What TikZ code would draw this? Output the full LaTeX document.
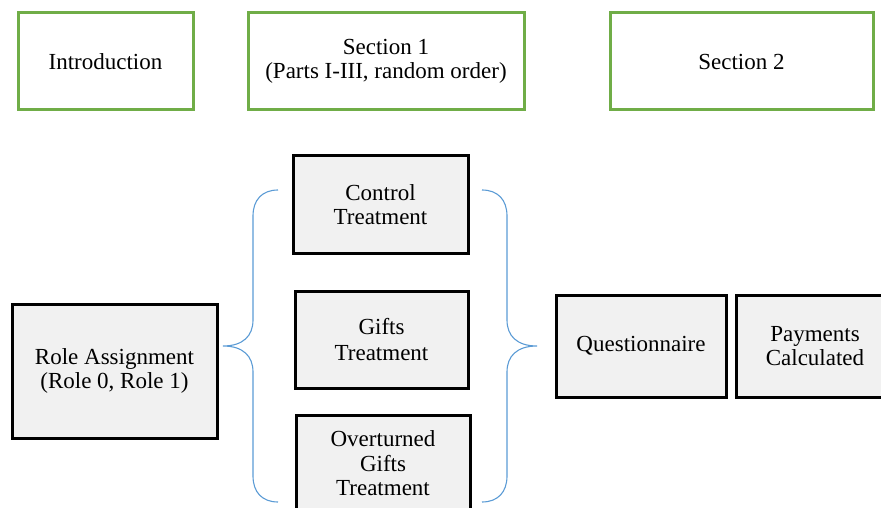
\documentclass[tikz,border=0pt]{standalone}
\usepackage{fontspec}
\setmainfont{Liberation Serif}
\definecolor{boxgreen}{HTML}{70AD47}
\definecolor{bracebl}{HTML}{5B9BD5}
\definecolor{boxgray}{HTML}{F1F1F1}
\begin{document}
\begin{tikzpicture}[x=1pt,y=-1pt,
  every node/.style={font=\fontsize{23}{24.5}\selectfont, align=center, inner sep=0pt},
  greenbox/.style={draw=boxgreen, line width=3pt, minimum height=97pt},
  graybox/.style={draw=black, line width=3pt, fill=boxgray},
  bracepath/.style={draw=bracebl, line width=1.1pt}]
\useasboundingbox (0,0) rectangle (881,508);
\clip (0,0) rectangle (881,508);
% top row
\node[greenbox, minimum width=175pt] (intro) at (105.5,61.5) {Introduction};
\node[greenbox, minimum width=276pt] (sec1) at (386,61.5) {Section 1\\(Parts I-III, random order)};
\node[greenbox, minimum width=263pt] (sec2) at (741.5,61.5) {Section 2};
% lower row
\node[graybox, minimum width=205pt, minimum height=134pt] (role) at (114.5,371) {Role Assignment\\(Role 0, Role 1)};
\node[graybox, minimum width=175pt, minimum height=97pt] (ctrl) at (380.5,204.5) {Control\\Treatment};
\node[graybox, minimum width=173pt, minimum height=97pt] (gifts) at (381.5,339.5) {Gifts\\[1.5pt]Treatment};
\node[graybox, minimum width=174pt, minimum height=97pt] (over) at (383,463.5) {Overturned\\Gifts\\Treatment};
\node[graybox, minimum width=170pt, minimum height=102pt] (quest) at (641,346) {Questionnaire};
\node[graybox, minimum width=158pt, minimum height=102pt] (pay) at (815,346) {Payments\\Calculated};
% left brace
\draw[bracepath] (278,190) .. controls (262,190) and (253,200) .. (253,216)
  -- (253,320) .. controls (253,336) and (243,346) .. (223,346)
  .. controls (243,346) and (253,356) .. (253,372)
  -- (253,476) .. controls (253,492) and (262,502) .. (278,502);
% right brace
\draw[bracepath] (482,190) .. controls (498,190) and (507,200) .. (507,216)
  -- (507,320) .. controls (507,336) and (517,346) .. (537,346)
  .. controls (517,346) and (507,356) .. (507,372)
  -- (507,476) .. controls (507,492) and (498,502) .. (482,502);
\end{tikzpicture}
\end{document}
